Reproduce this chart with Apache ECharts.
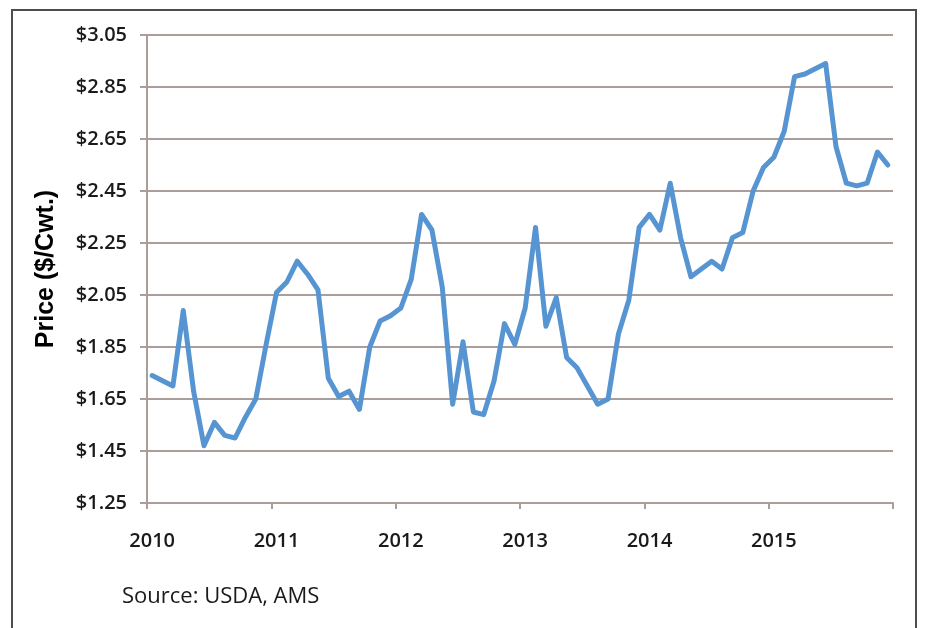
<!DOCTYPE html>
<html>
<head>
<meta charset="utf-8">
<script src="https://cdn.jsdelivr.net/npm/echarts@6/dist/echarts.min.js"></script>
<style>
  html, body { margin: 0; padding: 0; background: #ffffff; }
  #chart { width: 926px; height: 628px; }
</style>
</head>
<body>
<div id="chart"></div>
<script>
// Monthly price series, Jan 2010 – Dec 2015 ($/Cwt.)
const years = ['2010', '2011', '2012', '2013', '2014', '2015'];
const prices2010 = [1.74, 1.72, 1.70, 1.99, 1.68, 1.47, 1.56, 1.51, 1.50, 1.58, 1.65, 1.86];
const prices2011 = [2.06, 2.10, 2.18, 2.13, 2.07, 1.73, 1.66, 1.68, 1.61, 1.85, 1.95, 1.97];
const prices2012 = [2.00, 2.11, 2.36, 2.30, 2.08, 1.63, 1.87, 1.60, 1.59, 1.72, 1.94, 1.86];
const prices2013 = [2.00, 2.31, 1.93, 2.04, 1.81, 1.77, 1.70, 1.63, 1.65, 1.90, 2.03, 2.31];
const prices2014 = [2.36, 2.30, 2.48, 2.27, 2.12, 2.15, 2.18, 2.15, 2.27, 2.29, 2.45, 2.54];
const prices2015 = [2.58, 2.68, 2.89, 2.90, 2.92, 2.94, 2.62, 2.48, 2.47, 2.48, 2.60, 2.55];

// Price axis ticks
const yMin = 1.25;
const yMax = 3.05;
const yStep = 0.20;

const yearlyPrices = [prices2010, prices2011, prices2012, prices2013, prices2014, prices2015];
const months = [];
const prices = [];
years.forEach((y, yi) => {
  yearlyPrices[yi].forEach((p, m) => {
    months.push(y + '-' + String(m + 1).padStart(2, '0'));
    prices.push(p);
  });
});

const gridColor = '#a99e99';
const textFont = '"Open Sans", "Liberation Sans", sans-serif';

const chart = echarts.init(document.getElementById('chart'), null, { renderer: 'canvas' });
chart.setOption({
  backgroundColor: '#ffffff',
  animation: false,
  grid: { left: 147, right: 33, top: 35, bottom: 125, containLabel: false },
  xAxis: {
    type: 'category',
    data: months,
    boundaryGap: true,
    axisLine: { show: true, lineStyle: { color: gridColor, width: 2 } },
    axisTick: { show: true, interval: 11, length: 6, lineStyle: { color: gridColor, width: 2 } },
    axisLabel: {
      interval: 11,
      margin: 28,
      color: '#1a1a1a',
      fontFamily: textFont,
      fontWeight: 600,
      fontSize: 20,
      formatter: v => v.slice(0, 4)
    },
    splitLine: { show: false }
  },
  yAxis: {
    type: 'value',
    min: yMin,
    max: yMax,
    interval: yStep,
    name: 'Price ($/Cwt.)',
    nameLocation: 'middle',
    nameRotate: 90,
    nameGap: 88,
    nameTextStyle: {
      color: '#000000',
      fontFamily: '"Liberation Sans", Arial, sans-serif',
      fontWeight: 900,
      fontSize: 25
    },
    axisLine: { show: true, lineStyle: { color: gridColor, width: 2 } },
    axisTick: { show: true, length: 7, lineStyle: { color: gridColor, width: 2 } },
    axisLabel: {
      margin: 20,
      color: '#1a1a1a',
      fontFamily: textFont,
      fontWeight: 600,
      fontSize: 20,
      formatter: v => '$' + v.toFixed(2)
    },
    splitLine: { show: true, lineStyle: { color: gridColor, width: 2 } }
  },
  series: [{
    type: 'line',
    data: prices,
    showSymbol: false,
    symbol: 'none',
    smooth: false,
    lineStyle: { color: '#5794d2', width: 5, join: 'round', cap: 'round' },
    z: 5
  }],
  graphic: [
    {
      type: 'rect',
      shape: { x: 12, y: 10, width: 904, height: 640 },
      style: { fill: 'none', stroke: '#4d4d4d', lineWidth: 2 },
      silent: true
    },
    {
      type: 'text',
      left: 122,
      top: 586,
      style: {
        text: 'Source: USDA, AMS',
        fill: '#1a1a1a',
        font: '22px "Open Sans", "Liberation Sans", sans-serif'
      }
    }
  ]
});
</script>
</body>
</html>
